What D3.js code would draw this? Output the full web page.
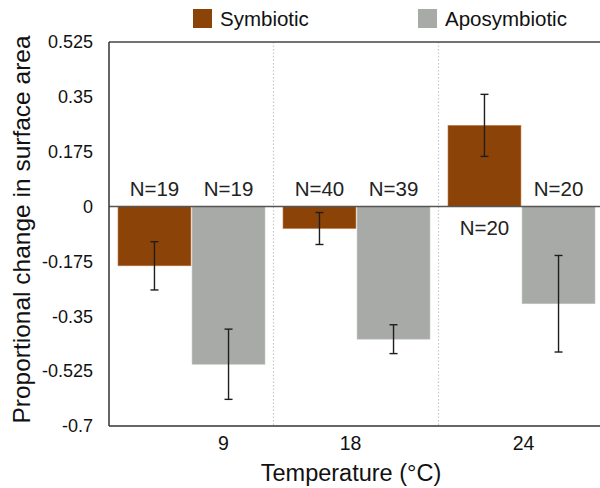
<!DOCTYPE html>
<meta charset="utf-8">
<script src="https://d3js.org/d3.v7.min.js"></script>
<style>
  body { margin: 0; background: #fff; }
  text { font-family: "Liberation Sans", Arial, sans-serif; }
</style>
<div class="vis"></div>

<script>
  let width = 600
  let height = 488
  let margin = { top: 42, right: -4, bottom: 62, left: 109 }

  // data
  let temps = ['9', '18', '24']
  let groups = ['Symbiotic', 'Aposymbiotic']
  let symMean = [-0.189, -0.070, 0.259]
  let symErr = [0.077, 0.051, 0.099]
  let symN = [19, 40, 20]
  let aposMean = [-0.503, -0.423, -0.310]
  let aposErr = [0.112, 0.046, 0.154]
  let aposN = [19, 39, 20]
  let yTicks = [0.525, 0.35, 0.175, 0, -0.175, -0.35, -0.525, -0.7]

  let colors = d3.scaleOrdinal(groups, ['#8c4308', '#a7aaa7'])

  let data = []
  temps.forEach((t, i) => {
    data.push({ temp: t, group: 'Symbiotic', mean: symMean[i], err: symErr[i], n: symN[i] })
    data.push({ temp: t, group: 'Aposymbiotic', mean: aposMean[i], err: aposErr[i], n: aposN[i] })
  })

  let svg = d3.select('.vis').append('svg')
    .attr('width', width).attr('height', height)

  let x0 = d3.scaleBand()
    .domain(temps)
    .range([margin.left, width - margin.right])

  let x1 = d3.scaleBand()
    .domain(groups)
    .range([9, x0.bandwidth() - 9])
    .paddingInner(0.015)

  let y = d3.scaleLinear()
    .domain([-0.7, 0.525])
    .range([height - margin.bottom, margin.top])

  // dotted separators between temperature groups
  svg.append('g')
    .selectAll('line')
    .data(temps.slice(1))
    .join('line')
      .attr('x1', d => x0(d) - 0.5).attr('x2', d => x0(d) - 0.5)
      .attr('y1', y(0.525)).attr('y2', y(-0.7))
      .attr('stroke', '#c8c8c8')
      .attr('stroke-width', 1.2)
      .attr('stroke-dasharray', '1.5,2')

  // bars
  svg.append('g')
    .selectAll('rect')
    .data(data)
    .join('rect')
      .attr('x', d => x0(d.temp) + x1(d.group))
      .attr('width', x1.bandwidth())
      .attr('y', d => y(Math.max(0, d.mean)))
      .attr('height', d => Math.abs(y(d.mean) - y(0)))
      .attr('fill', d => colors(d.group))
      .attr('stroke', d => d.group == 'Symbiotic' ? '#c47a45' : '#c3c5c3')
      .attr('stroke-width', 0.6)

  // error bars
  let eb = svg.append('g')
    .selectAll('g')
    .data(data)
    .join('g')
      .attr('transform', d => `translate(${x0(d.temp) + x1(d.group) + x1.bandwidth() / 2},0)`)
      .attr('stroke', '#1e1e1e')
      .attr('stroke-width', 1.4)
  eb.append('line')
    .attr('y1', d => y(d.mean + d.err)).attr('y2', d => y(d.mean - d.err))
  eb.append('line')
    .attr('x1', -4).attr('x2', 4)
    .attr('y1', d => y(d.mean + d.err)).attr('y2', d => y(d.mean + d.err))
  eb.append('line')
    .attr('x1', -4).attr('x2', 4)
    .attr('y1', d => y(d.mean - d.err)).attr('y2', d => y(d.mean - d.err))

  // N labels: above zero, or below zero when the bar is positive
  svg.append('g')
    .selectAll('text')
    .data(data)
    .join('text')
      .attr('x', d => x0(d.temp) + x1(d.group) + x1.bandwidth() / 2)
      .attr('y', d => d.mean > 0 ? y(0) + 28 : y(0) - 11)
      .attr('text-anchor', 'middle')
      .style('font-size', '20.5px')
      .style('fill', '#222')
      .text(d => 'N=' + d.n)

  // frame lines
  svg.append('line')
    .attr('x1', margin.left).attr('x2', width)
    .attr('y1', y(0)).attr('y2', y(0))
    .attr('stroke', '#555').attr('stroke-width', 1.5)
  svg.append('line')
    .attr('x1', margin.left).attr('x2', width)
    .attr('y1', y(0.525)).attr('y2', y(0.525))
    .attr('stroke', '#444').attr('stroke-width', 1.5)
  svg.append('line')
    .attr('x1', margin.left).attr('x2', width)
    .attr('y1', y(-0.7)).attr('y2', y(-0.7))
    .attr('stroke', '#333').attr('stroke-width', 1.5)
  svg.append('line')
    .attr('x1', margin.left).attr('x2', margin.left)
    .attr('y1', y(0.525)).attr('y2', y(-0.7))
    .attr('stroke', '#333').attr('stroke-width', 1.5)

  // y axis
  let yAxis = svg.append('g')
    .attr('transform', `translate(${margin.left},0)`)
    .call(d3.axisLeft(y).tickValues(yTicks).tickSize(0).tickPadding(16).tickFormat(d => d == 0 ? '0' : String(d)))
  yAxis.select('.domain').remove()
  yAxis.selectAll('text')
    .style('font-size', '18px')
    .style('fill', '#111')
    .attr('font-family', null)

  // x axis
  let tickNudge = { '9': 32, '18': -6, '24': 2 }
  let xAxis = svg.append('g')
    .attr('transform', `translate(0,${y(-0.7)})`)
    .call(d3.axisBottom(x0).tickSize(0).tickPadding(10.5))
  xAxis.select('.domain').remove()
  xAxis.selectAll('text')
    .attr('dx', d => tickNudge[d])
    .style('font-size', '19.5px')
    .style('fill', '#111')
    .attr('font-family', null)

  svg.append('text')
    .attr('x', 351).attr('y', 481)
    .attr('text-anchor', 'middle')
    .style('font-size', '23.5px')
    .style('fill', '#111')
    .text('Temperature (°C)')

  svg.append('text')
    .attr('transform', `translate(30,229.5)rotate(-90)`)
    .attr('text-anchor', 'middle')
    .style('font-size', '24.5px')
    .style('fill', '#111')
    .text('Proportional change in surface area')

  // legend
  let legendX = [193, 418]
  let legend = svg.append('g')
    .selectAll('g')
    .data(groups)
    .join('g')
      .attr('transform', (d, i) => `translate(${legendX[i]},9)`)
  legend.append('rect')
    .attr('width', 19).attr('height', 19)
    .attr('fill', d => colors(d))
  legend.append('text')
    .attr('x', 27).attr('y', 17)
    .style('font-size', '20.5px')
    .style('fill', '#111')
    .text(d => d)
</script>
